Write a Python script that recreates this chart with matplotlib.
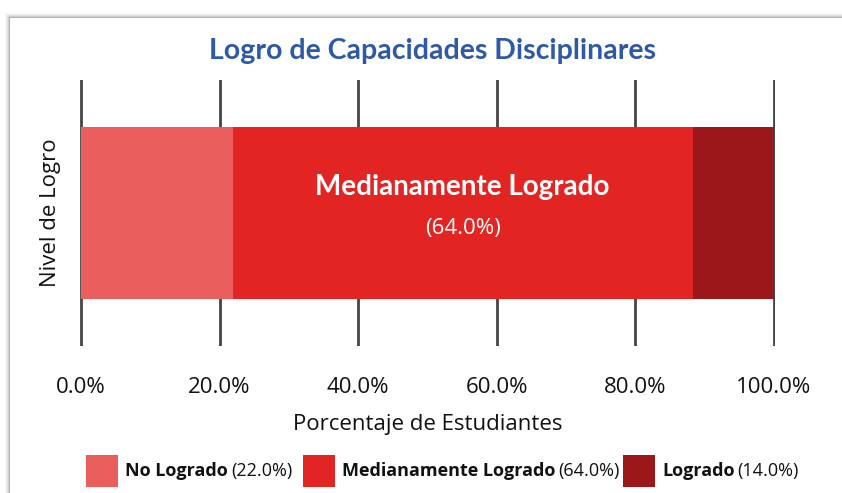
import matplotlib.pyplot as plt
from matplotlib.patches import Rectangle
from matplotlib.ticker import FuncFormatter

# data
categories = ['No Logrado', 'Medianamente Logrado', 'Logrado']
label_pcts = [22.0, 64.0, 14.0]          # numbers printed in the labels
bar_widths = [21.9, 66.4, 11.7]          # widths as drawn in the reference
colors = ['#EB5E5E', '#E22522', '#9B1719']
ticks = [0, 20, 40, 60, 80, 100]

W, H = 842, 493
plt.rcParams['font.family'] = ['Open Sans', 'DejaVu Sans']
bold_font = ['Lato', 'Open Sans', 'DejaVu Sans']

fig = plt.figure(figsize=(W / 100, H / 100), dpi=100)
fig.patch.set_facecolor('white')

# card with soft shadow at top / left
cx, cy = 10, 18
for i, a in enumerate([0.05, 0.08, 0.12, 0.2, 0.35]):
    off = 5 - i
    fig.patches.append(Rectangle(((cx - off) / W, -0.1), 2, (H - cy + off) / H + 0.1,
                                 transform=fig.transFigure, facecolor='#888888',
                                 alpha=a, edgecolor='none', zorder=0))
fig.patches.append(Rectangle((cx / W, -0.1), 2, (H - cy) / H + 0.1,
                             transform=fig.transFigure, facecolor='white',
                             edgecolor='none', zorder=0))

ax = fig.add_axes([80 / W, (H - 346) / H, 695 / W, 266 / H])
ax.set_zorder(1)
ax.patch.set_alpha(0)

left = 0
for cat, w, c in zip(categories, bar_widths, colors):
    ax.barh(0.5, w, left=left, height=0.645, color=c, zorder=2)
    left += w

# label in the largest segment
mid_left = bar_widths[0]
mid_c = mid_left + bar_widths[1] / 2
ax.text(mid_c, 0.598, categories[1], color='white', fontsize=20, fontweight='bold',
        family=bold_font, ha='center', va='center', zorder=3)
ax.text(mid_c, 0.44, '(%.1f%%)' % label_pcts[1], color='white', fontsize=16,
        ha='center', va='center', zorder=3)

ax.set_xlim(-0.15, 100.2)
ax.set_ylim(0, 1)
ax.set_xticks(ticks)
ax.xaxis.set_major_formatter(FuncFormatter(lambda v, p: '%.1f%%' % v))
ax.grid(axis='x', color='#444444', linewidth=2, zorder=1)
ax.tick_params(axis='x', length=0, pad=22, labelsize=16, colors='#111111')
ax.set_yticks([])
for s in ax.spines.values():
    s.set_visible(False)

ax.set_xlabel('Porcentaje de Estudiantes', fontsize=16, labelpad=12, color='#111111')
ax.set_ylabel('Nivel de Logro', fontsize=16, labelpad=14, color='#111111')

fig.text(432 / W, 1 - 51 / H, 'Logro de Capacidades Disciplinares', color='#2E59A8',
         fontsize=20.5, fontweight='bold', family=bold_font, ha='center', va='center')

# legend drawn by hand (bold name + regular percentage)
fig.canvas.draw()
r = fig.canvas.get_renderer()
starts = [86, 303, 623]
ly = 471
for x0, cat, p, c in zip(starts, categories, label_pcts, colors):
    fig.patches.append(Rectangle((x0 / W, 1 - (ly + 16) / H), 32 / W, 32 / H,
                                 transform=fig.transFigure, facecolor=c,
                                 edgecolor='none', zorder=2))
    t = fig.text((x0 + 39) / W, 1 - ly / H, cat, fontsize=13, fontweight='bold',
                 ha='left', va='center', color='#111111')
    bb = t.get_window_extent(renderer=r)
    fig.text((bb.x1 + 3) / W, 1 - ly / H, '(%.1f%%)' % p, fontsize=13,
             ha='left', va='center', color='#111111')

fig.savefig('out.png', dpi=100)
